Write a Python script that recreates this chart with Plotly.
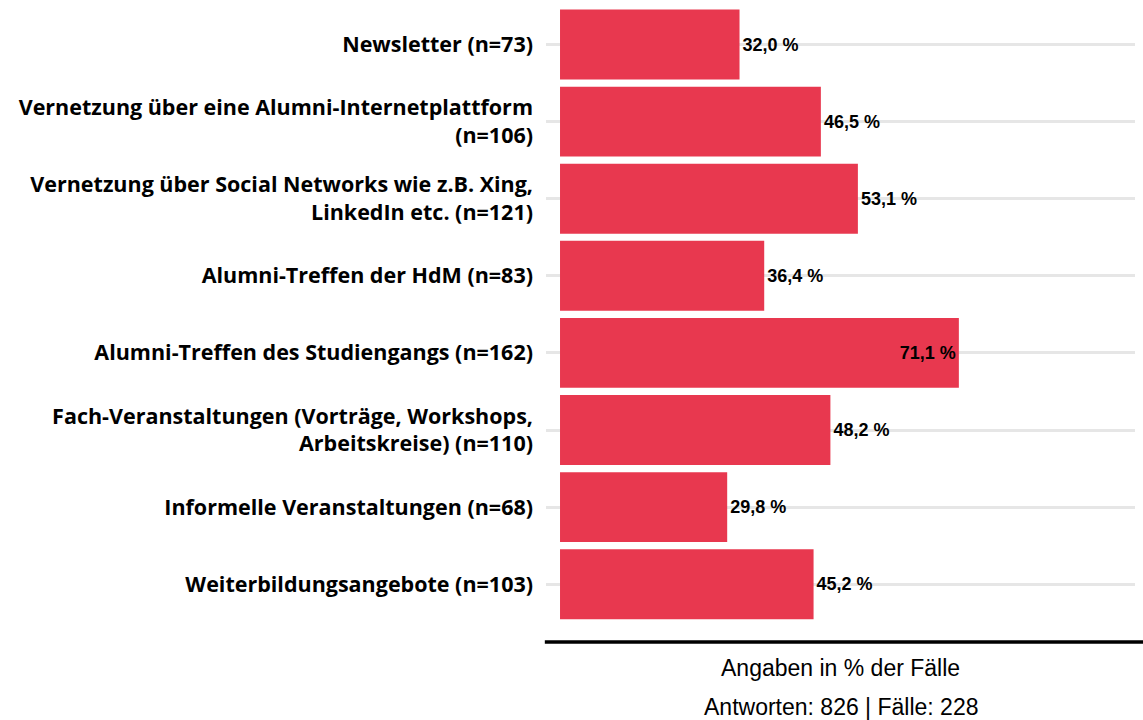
import plotly.graph_objects as go

categories = [
    "Newsletter (n=73)",
    "Vernetzung über eine Alumni-Internetplattform<br>(n=106)",
    "Vernetzung über Social Networks wie z.B. Xing,<br>LinkedIn etc. (n=121)",
    "Alumni-Treffen der HdM (n=83)",
    "Alumni-Treffen des Studiengangs (n=162)",
    "Fach-Veranstaltungen (Vorträge, Workshops,<br>Arbeitskreise) (n=110)",
    "Informelle Veranstaltungen (n=68)",
    "Weiterbildungsangebote (n=103)",
]
values = [32.0, 46.5, 53.1, 36.4, 71.1, 48.2, 29.8, 45.2]
axis_title_lines = ["Angaben in % der Fälle", "Antworten: 826 | Fälle: 228"]

maxv = max(values)
positions = ["inside" if v == maxv else "outside" for v in values]
valfont = dict(family="Liberation Sans, Arial, sans-serif", size=18, color="#000000", weight="bold")

fig = go.Figure(
    go.Bar(
        x=values,
        y=categories,
        orientation="h",
        marker=dict(color="#E8384F", line=dict(width=0)),
        texttemplate="%{x:.1f} %",
        textposition=positions,
        insidetextanchor="end",
        textfont=valfont,
        insidetextfont=valfont,
        outsidetextfont=valfont,
        cliponaxis=False,
        hoverinfo="skip",
    )
)

fig.update_layout(
    width=1143,
    height=720,
    margin=dict(l=546, r=8, t=6, b=78),
    paper_bgcolor="white",
    plot_bgcolor="white",
    bargap=0.093,
    separators=",.",
    showlegend=False,
    xaxis=dict(
        range=[-2.5, 102.5],
        showgrid=False,
        zeroline=False,
        showticklabels=False,
        ticks="",
        showline=False,
        fixedrange=True,
    ),
    yaxis=dict(
        type="category",
        categoryorder="array",
        categoryarray=categories,
        range=[7.75, -0.5],
        showgrid=True,
        gridcolor="rgba(200,200,200,0.45)",
        gridwidth=3,
        layer="above traces",
        zeroline=False,
        showline=False,
        ticks="",
        ticklabelstandoff=12,
        automargin=False,
        fixedrange=True,
        tickfont=dict(family="Open Sans, sans-serif", size=21.5, color="#000000", weight="bold"),
    ),
    shapes=[
        dict(
            type="line",
            xref="paper",
            yref="paper",
            x0=-0.002,
            x1=1.014,
            y0=0,
            y1=0,
            line=dict(color="#000000", width=3.5),
            layer="above",
        )
    ],
    annotations=[
        dict(
            text=axis_title_lines[0],
            xref="paper",
            yref="paper",
            x=0.5,
            y=0,
            yshift=-26,
            yanchor="middle",
            showarrow=False,
            font=dict(family="Liberation Sans, Arial, sans-serif", size=23, color="#000000"),
        ),
        dict(
            text=axis_title_lines[1],
            xref="paper",
            yref="paper",
            x=0.5,
            y=0,
            yshift=-65,
            yanchor="middle",
            showarrow=False,
            font=dict(family="Liberation Sans, Arial, sans-serif", size=23, color="#000000"),
        ),
    ],
)

fig.write_html(
    "out.html",
    config={"displayModeBar": False},
    post_script="document.body.style.margin='0';document.body.style.overflow='hidden';",
)
